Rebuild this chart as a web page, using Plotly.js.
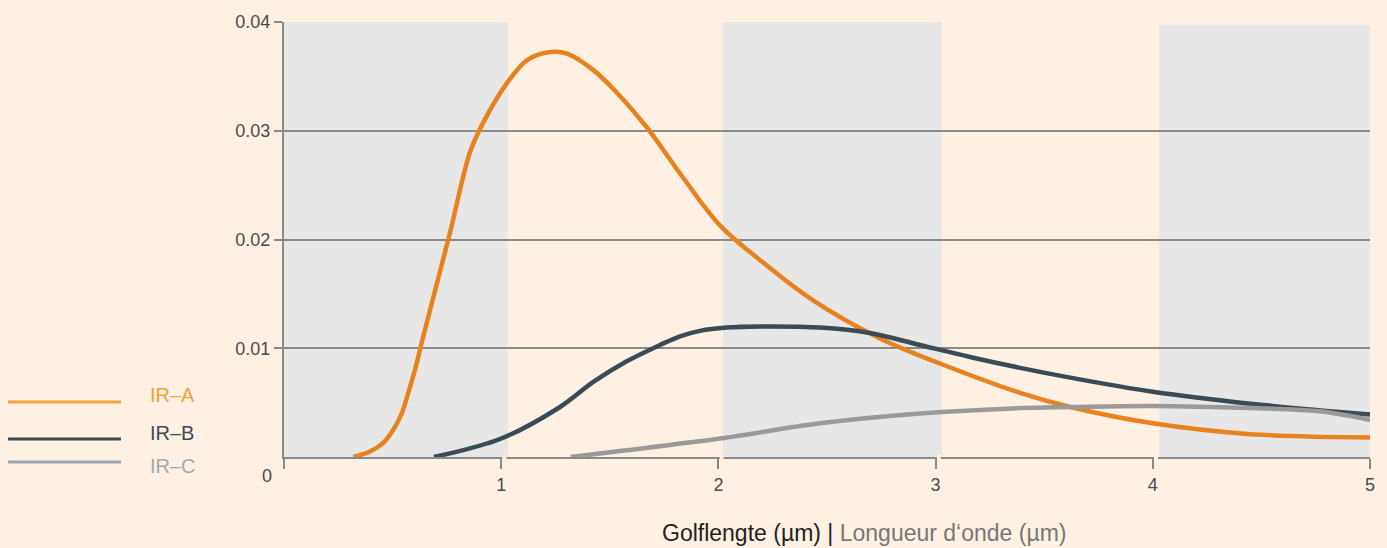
<!DOCTYPE html>
<html>
<head>
<meta charset="utf-8">
<script src="https://cdn.plot.ly/plotly-3.0.1.min.js"></script>
<style>html,body{margin:0;padding:0;background:#FEF1E4;}#chart{width:1387px;height:548px;}</style>
</head>
<body>
<div id="chart"></div>
<script>
// Data
const seriesNames = ["IR–A", "IR–B", "IR–C"];
const irA_x = [0.319, 0.396, 0.457, 0.503, 0.542, 0.572, 0.603, 0.634, 0.72, 0.764, 0.856, 0.916, 1.027, 1.119, 1.211, 1.303, 1.423, 1.533, 1.671, 1.837, 2.007, 2.192, 2.436, 2.744, 3.02, 3.389, 3.62, 4.0, 4.45, 5.0];
const irA_y = [0.0, 0.0005, 0.0013, 0.0025, 0.0040, 0.0059, 0.0080, 0.0105, 0.0172, 0.0206, 0.0280, 0.0307, 0.0344, 0.0365, 0.0372, 0.0371, 0.0356, 0.0335, 0.0303, 0.0257, 0.0213, 0.0181, 0.0144, 0.0109, 0.0086, 0.0059, 0.0046, 0.0031, 0.0021, 0.0018];
const irB_x = [0.69, 1.0, 1.271, 1.424, 1.578, 1.731, 1.823, 1.915, 2.038, 2.192, 2.468, 2.698, 2.928, 3.158, 3.389, 3.62, 4.0, 4.45, 5.0];
const irB_y = [0.0, 0.0017, 0.0046, 0.0069, 0.0088, 0.0103, 0.0111, 0.0116, 0.0119, 0.0120, 0.0119, 0.0114, 0.0103, 0.0092, 0.0082, 0.0073, 0.0060, 0.0049, 0.0039];
const irC_x = [1.32, 1.547, 2.007, 2.468, 2.928, 3.389, 3.62, 4.0, 4.45, 4.77, 5.0];
const irC_y = [0.0, 0.00055, 0.0017, 0.0031, 0.0040, 0.0045, 0.0046, 0.0047, 0.0045, 0.0042, 0.0034];
const xTickVals = [0, 1, 2, 3, 4, 5];
const xTickText = ["", "1", "2", "3", "4", "5"];
const yTickVals = [0.01, 0.02, 0.03, 0.04];
const yTickText = ["0.01", "0.02", "0.03", "0.04"];
const bandStarts = [0, 2.02, 4.03];
const bandEnds = [1.03, 3.03, 5.0];
const bandTops = [0.04, 0.04, 0.0397];

const curveColors = ["#E8821E", "#3A4B56", "#9A9A9A"];
const legendLineColors = ["#F7A23B", "#3D4C55", "#9BA6AE"];
const legendTextColors = ["#F5A23A", "#3D4C55", "#A0AAB2"];
const BG = "#FEF1E4";
const FONT = "Liberation Sans, Arial, sans-serif";

const xs = [irA_x, irB_x, irC_x];
const ys = [irA_y, irB_y, irC_y];
const traces = xs.map((x, i) => ({
  type: "scatter", mode: "lines", x: x, y: ys[i], name: seriesNames[i],
  line: {color: curveColors[i], width: 4.5, shape: "spline", smoothing: 1.0},
  cliponaxis: false, showlegend: false, hoverinfo: "x+y+name"
}));

const shapes = bandStarts.map((s, i) => ({
  type: "rect", xref: "x", yref: "y", x0: s, x1: bandEnds[i], y0: 0, y1: bandTops[i],
  fillcolor: "#E6E7E6", line: {width: 0}, layer: "below"
}));

// legend lines (paper coordinates)
const L = 284, W = 1086, B = 457, H = 435;
const px = v => (v - L) / W, py = v => (B - v) / H;
const legLineY = [402, 439, 462];
const legTextY = [395, 433, 466];
legLineY.forEach((yy, i) => {
  shapes.push({type: "line", xref: "paper", yref: "paper", x0: px(8), x1: px(121), y0: py(yy), y1: py(yy),
    line: {color: legendLineColors[i], width: 3}});
});
// gaps in the x axis just after each tick
[1, 2, 3, 4].forEach(t => {
  shapes.push({type: "rect", xref: "x", yref: "paper", x0: t + 0.006, x1: t + 0.024, y0: py(459.5), y1: py(454.5),
    fillcolor: BG, line: {width: 0}, layer: "above"});
});

const annotations = seriesNames.map((n, i) => ({
  xref: "paper", yref: "paper", x: px(148), y: py(legTextY[i]), xanchor: "left", yanchor: "middle",
  text: n, showarrow: false, font: {family: FONT, size: 20, color: legendTextColors[i]}
}));
annotations.push({xref: "paper", yref: "paper", x: px(267), y: py(476), xanchor: "center", yanchor: "middle",
  text: "0", showarrow: false, font: {family: FONT, size: 18, color: "#4A4A4A"}});
annotations.push({xref: "paper", yref: "paper", x: px(864), y: py(533), xanchor: "center", yanchor: "middle",
  text: '<span style="color:#222">Golflengte (µm) |</span> <span style="color:#777">Longueur d‘onde (µm)</span>',
  showarrow: false, font: {family: FONT, size: 23, color: "#222"}});

const layout = {
  width: 1387, height: 548,
  paper_bgcolor: BG, plot_bgcolor: BG,
  margin: {l: 284, r: 17, t: 22, b: 91},
  font: {family: FONT, size: 18, color: "#4A4A4A"},
  showlegend: false,
  xaxis: {range: [0, 5], tickvals: xTickVals, ticktext: xTickText, ticks: "outside", ticklen: 10,
    tickwidth: 2, tickcolor: "#8A8A8A", showgrid: false, zeroline: false, showline: true,
    linecolor: "#8A8A8A", linewidth: 2, tickfont: {family: FONT, size: 18, color: "#4A4A4A"}, fixedrange: true},
  yaxis: {range: [0, 0.04], tickvals: yTickVals, ticktext: yTickText, ticks: "outside", ticklen: 8,
    tickwidth: 2, tickcolor: "#8A8A8A", showgrid: true, gridcolor: "#8A8A8A", gridwidth: 2,
    zeroline: false, showline: true, linecolor: "#8A8A8A", linewidth: 2,
    tickfont: {family: FONT, size: 18, color: "#4A4A4A"}, fixedrange: true},
  shapes: shapes,
  annotations: annotations
};

Plotly.newPlot("chart", traces, layout, {displayModeBar: false, staticPlot: true});
</script>
</body>
</html>
